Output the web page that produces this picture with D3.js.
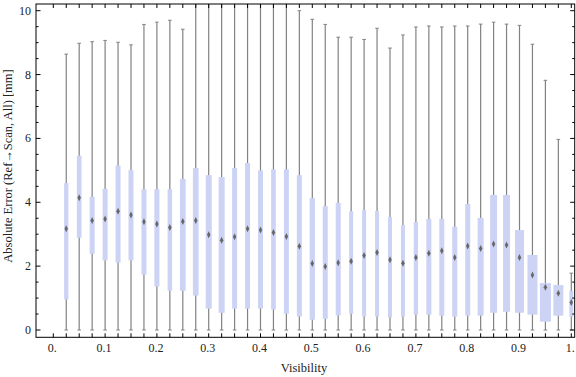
<!DOCTYPE html>
<html>
<head>
<meta charset="utf-8">
<script src="https://cdn.jsdelivr.net/npm/d3@7"></script>
<style>
  body { margin: 0; background: #fff; }
  text { font-family: "Liberation Serif", "Times New Roman", serif; fill: #222; }
</style>
</head>
<body>
<svg id="chart" width="576" height="377"></svg>
<script>
// Visibility bins (box centres)
var visibility = [0.025, 0.05, 0.075, 0.1, 0.125, 0.15, 0.175, 0.2, 0.225, 0.25,
                  0.275, 0.3, 0.325, 0.35, 0.375, 0.4, 0.425, 0.45, 0.475, 0.5,
                  0.525, 0.55, 0.575, 0.6, 0.625, 0.65, 0.675, 0.7, 0.725, 0.75,
                  0.775, 0.8, 0.825, 0.85, 0.875, 0.9, 0.925, 0.95, 0.975, 1.0];

// Box statistics (mm)
var whiskerLow = [0, 0, 0, 0, 0, 0, 0, 0, 0, 0,
                  0, 0, 0, 0, 0, 0, 0, 0, 0, 0,
                  0, 0, 0, 0, 0, 0, 0, 0, 0, 0,
                  0, 0, 0, 0, 0, 0, 0, 0, 0, 0];
var q1 = [0.96, 2.89, 2.39, 2.18, 2.11, 2.18, 1.73, 1.36, 1.23, 1.23,
          1.08, 0.67, 0.54, 0.67, 0.67, 0.67, 0.64, 0.51, 0.42, 0.32,
          0.35, 0.46, 0.51, 0.42, 0.42, 0.39, 0.42, 0.48, 0.48, 0.45,
          0.42, 0.45, 0.45, 0.54, 0.57, 0.54, 0.48, 0.26, 0.45, 0.42];
var median = [3.17, 4.14, 3.43, 3.48, 3.72, 3.60, 3.39, 3.32, 3.21, 3.40,
              3.43, 2.98, 2.81, 2.92, 3.17, 3.13, 3.05, 2.93, 2.62, 2.08,
              1.99, 2.11, 2.15, 2.33, 2.43, 2.20, 2.09, 2.27, 2.40, 2.48,
              2.27, 2.63, 2.55, 2.69, 2.66, 2.27, 1.72, 1.34, 1.15, 0.86];
var q3 = [4.60, 5.46, 4.17, 4.42, 5.15, 5.01, 4.41, 4.41, 4.41, 4.73,
          5.07, 4.85, 4.79, 5.07, 5.23, 5.00, 5.03, 5.03, 4.85, 4.13,
          3.88, 3.98, 3.72, 3.76, 3.73, 3.54, 3.29, 3.38, 3.48, 3.48,
          3.23, 3.95, 3.51, 4.23, 4.23, 3.13, 2.35, 1.47, 1.41, 1.22];
var whiskerHigh = [8.64, 8.98, 9.03, 9.07, 9.01, 8.93, 9.57, 9.64, 9.70, 9.42,
                   10.6, 10.8, 10.7, 10.9, 11.0, 10.8, 10.7, 10.5, 10.00, 9.73,
                   9.57, 9.17, 9.17, 9.10, 9.45, 8.83, 9.24, 9.49, 9.52, 9.49,
                   9.52, 9.52, 9.58, 9.64, 9.58, 9.54, 8.95, 7.82, 5.97, 1.78];
// Relative weight of each bin (box widths differ in the chart)
var boxWeight = [43, 47, 50, 50, 50, 50, 50, 50, 45, 57,
                 57, 60, 60, 50, 50, 50, 47, 50, 50, 53,
                 50, 50, 40, 40, 40, 40, 40, 43, 50, 50,
                 50, 50, 60, 70, 70, 90, 100, 110, 100, 40];

// Tick labels
var xTickValues = [0, 0.1, 0.2, 0.3, 0.4, 0.5, 0.6, 0.7, 0.8, 0.9, 1.0];
var xTickLabels = ["0.", "0.1", "0.2", "0.3", "0.4", "0.5", "0.6", "0.7", "0.8", "0.9", "1."];
var yTickValues = [0, 2, 4, 6, 8, 10];

var frame = { left: 36, top: 4, right: 574.7, bottom: 337.3 };

var svg = d3.select("#chart");

var xScale = d3.scaleLinear().domain([0, 1]).range([53.3, 571.3]);
var yScale = d3.scaleLinear().domain([0, 10]).range([330, 10.7]);
var wScale = d3.scaleLinear().domain([0, 110]).range([0, 11]);

var data = visibility.map(function (v, i) {
  return { x: v, lo: whiskerLow[i], q1: q1[i], med: median[i], q3: q3[i], hi: whiskerHigh[i], w: boxWeight[i] };
});

// clip to frame
svg.append("clipPath").attr("id", "plotClip")
  .append("rect")
  .attr("x", frame.left).attr("y", frame.top)
  .attr("width", frame.right - frame.left).attr("height", frame.bottom - frame.top);

var defs = svg.append("defs");
defs.append("filter").attr("id", "soft")
  .append("feGaussianBlur").attr("stdDeviation", 0.45);

var plot = svg.append("g").attr("clip-path", "url(#plotClip)");

// whiskers
plot.selectAll("line.whisker")
  .data(data).enter()
  .append("line")
  .attr("class", "whisker")
  .attr("x1", function (d) { return xScale(d.x); })
  .attr("x2", function (d) { return xScale(d.x); })
  .attr("y1", function (d) { return yScale(d.lo); })
  .attr("y2", function (d) { return yScale(d.hi); })
  .attr("stroke", "#828282")
  .attr("stroke-width", 1.2);

// whisker caps
["lo", "hi"].forEach(function (k) {
  plot.selectAll("line.cap-" + k)
    .data(data).enter()
    .append("line")
    .attr("class", "cap-" + k)
    .attr("x1", function (d) { return xScale(d.x) - 1.8; })
    .attr("x2", function (d) { return xScale(d.x) + 1.8; })
    .attr("y1", function (d) { return yScale(d[k]); })
    .attr("y2", function (d) { return yScale(d[k]); })
    .attr("stroke", "#828282")
    .attr("stroke-width", 1);
});

// boxes
plot.selectAll("rect.box")
  .data(data).enter()
  .append("rect")
  .attr("class", "box")
  .attr("x", function (d) { return xScale(d.x) - wScale(d.w) / 2; })
  .attr("width", function (d) { return wScale(d.w); })
  .attr("y", function (d) { return yScale(d.q3); })
  .attr("height", function (d) { return yScale(d.q1) - yScale(d.q3); })
  .attr("fill", "rgb(204,211,245)");

// median markers (small diamonds)
plot.selectAll("path.med")
  .data(data).enter()
  .append("path")
  .attr("class", "med")
  .attr("d", function (d) {
    var cx = xScale(d.x), cy = yScale(d.med);
    return "M" + cx + "," + (cy - 3.5) + "L" + (cx + 1.7) + "," + cy +
           "L" + cx + "," + (cy + 3.5) + "L" + (cx - 1.7) + "," + cy + "Z";
  })
  .attr("fill", "#666")
  .attr("filter", "url(#soft)");

// frame
svg.append("rect")
  .attr("x", frame.left).attr("y", frame.top)
  .attr("width", frame.right - frame.left).attr("height", frame.bottom - frame.top)
  .attr("fill", "none").attr("stroke", "#000").attr("stroke-width", 1);

// x ticks: one at every bin position (top and bottom, inward)
var xTickPos = [0].concat(visibility);
var ticks = svg.append("g").attr("stroke", "#000").attr("stroke-width", 1);
xTickPos.forEach(function (v) {
  var x = xScale(v);
  ticks.append("line").attr("x1", x).attr("x2", x).attr("y1", frame.bottom).attr("y2", frame.bottom - 4);
  ticks.append("line").attr("x1", x).attr("x2", x).attr("y1", frame.top).attr("y2", frame.top + 4);
});

// y ticks: major every 2, minor every 0.5 (left and right, inward)
var yMinor = yScale.ticks(20).filter(function (v) { return v >= 0; });
yMinor.forEach(function (v) {
  var y = yScale(v);
  var len = (v % 2 === 0) ? 4.5 : 2.5;
  ticks.append("line").attr("x1", frame.left).attr("x2", frame.left + len).attr("y1", y).attr("y2", y);
  ticks.append("line").attr("x1", frame.right).attr("x2", frame.right - len).attr("y1", y).attr("y2", y);
});

// y labels
svg.selectAll("text.ylab")
  .data(yTickValues).enter()
  .append("text")
  .attr("class", "ylab")
  .attr("x", 31)
  .attr("y", function (v) { return yScale(v) + 4; })
  .attr("text-anchor", "end")
  .style("font-size", "12px")
  .text(function (v) { return v; });

// x labels
svg.selectAll("text.xlab")
  .data(xTickValues).enter()
  .append("text")
  .attr("class", "xlab")
  .attr("x", function (v) { return xScale(v) - 1; })
  .attr("y", 352)
  .attr("text-anchor", "middle")
  .style("font-size", "12px")
  .text(function (v, i) { return xTickLabels[i]; });

// axis titles
svg.append("text")
  .attr("x", 304)
  .attr("y", 372)
  .attr("text-anchor", "middle")
  .style("font-size", "12.5px")
  .text("Visibility");

svg.append("text")
  .attr("transform", "translate(12,166) rotate(-90)")
  .attr("text-anchor", "middle")
  .style("font-size", "12.5px")
  .text("Absolute Error (Ref\u2192Scan, All) [mm]");
</script>
</body>
</html>
